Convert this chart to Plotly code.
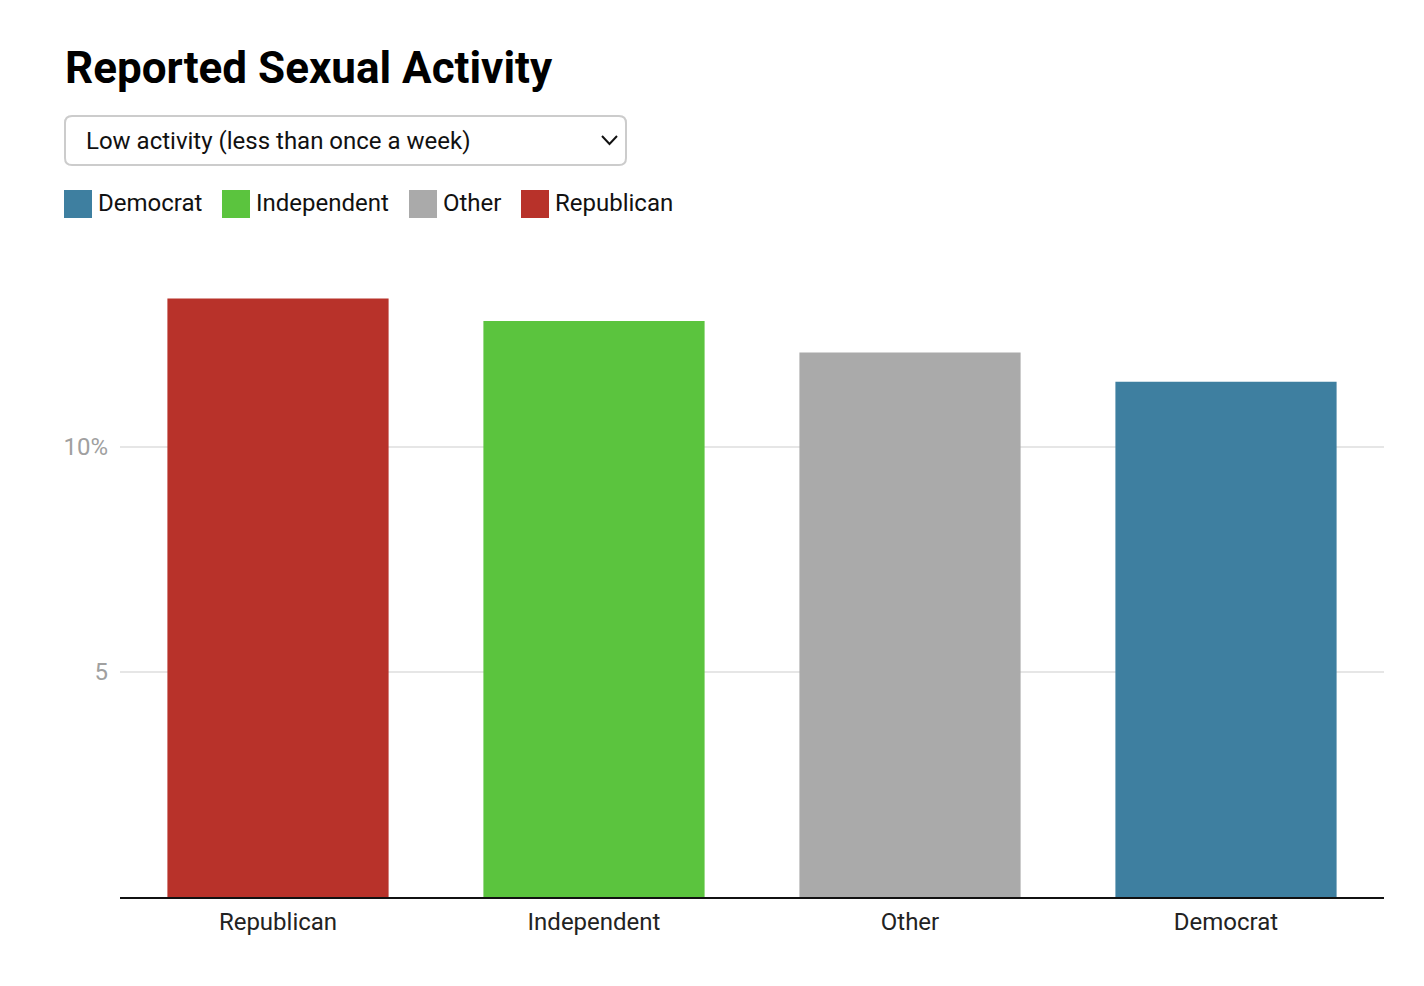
import plotly.graph_objects as go

categories = ["Republican", "Independent", "Other", "Democrat"]
values = [13.3, 12.8, 12.1, 11.45]
colors = ["#b8322a", "#5bc43e", "#aaaaaa", "#3e7fa0"]
legend_names = ["Democrat", "Independent", "Other", "Republican"]
legend_colors = ["#3e7fa0", "#5bc43e", "#aaaaaa", "#b8322a"]
tick_vals = [5, 10]
tick_text = ["5", "10%"]
title_text = "Reported Sexual Activity"
dropdown_text = "Low activity (less than once a week)"

W, H = 1424, 986
L, R, T, B = 120, 40, 250, 89
PW, PH = W - L - R, H - T - B


def px(x):
    return (x - L) / PW


def py(y):
    return (H - B - y) / PH


fig = go.Figure()
fig.add_trace(go.Bar(
    x=categories, y=values, marker=dict(color=colors, line=dict(width=0)),
    showlegend=False, hoverinfo="x+y",
))

shapes = []
annotations = []

# title
annotations.append(dict(
    text="<b>" + title_text + "</b>", xref="paper", yref="paper",
    x=px(63), y=py(68), xanchor="left", yanchor="middle", showarrow=False,
    font=dict(family="Roboto", size=44, color="#000000"),
))

# dropdown box (rounded)
x0, x1, y0, y1, r = px(65), px(626), py(116), py(165), 7
rx, ry = r / PW, r / PH
path = (f"M {x0+rx},{y0} L {x1-rx},{y0} Q {x1},{y0} {x1},{y0-ry} "
        f"L {x1},{y1+ry} Q {x1},{y1} {x1-rx},{y1} L {x0+rx},{y1} "
        f"Q {x0},{y1} {x0},{y1+ry} L {x0},{y0-ry} Q {x0},{y0} {x0+rx},{y0} Z")
shapes.append(dict(type="path", xref="paper", yref="paper", path=path,
                   line=dict(color="#cccccc", width=2), fillcolor="#ffffff", layer="above"))
annotations.append(dict(
    text=dropdown_text, xref="paper", yref="paper",
    x=px(84), y=py(141), xanchor="left", yanchor="middle", showarrow=False,
    font=dict(family="Roboto", size=24, color="#111111"),
))
chev = f"M {px(602)},{py(136)} L {px(609.5)},{py(144)} L {px(617)},{py(136)}"
shapes.append(dict(type="path", xref="paper", yref="paper", path=chev,
                   line=dict(color="#111111", width=2)))

# custom legend
leg_x = [64, 222, 409, 521]
for name, col, lx in zip(legend_names, legend_colors, leg_x):
    shapes.append(dict(type="rect", xref="paper", yref="paper",
                       x0=px(lx), x1=px(lx + 28), y0=py(190), y1=py(218),
                       fillcolor=col, line=dict(width=0)))
    annotations.append(dict(
        text=name, xref="paper", yref="paper",
        x=px(lx + 32), y=py(203), xanchor="left", yanchor="middle", showarrow=False,
        font=dict(family="Roboto", size=24, color="#111111"),
    ))

fig.update_layout(
    width=W, height=H,
    margin=dict(l=L, r=R, t=T, b=B, pad=0),
    paper_bgcolor="#ffffff", plot_bgcolor="#ffffff",
    bargap=0.3,
    shapes=shapes, annotations=annotations,
    font=dict(family="Roboto"),
    xaxis=dict(
        showgrid=False, showline=True, linecolor="#111111", linewidth=2,
        ticks="", ticklabelstandoff=2,
        tickfont=dict(family="Roboto", size=24, color="#222222"),
        fixedrange=True,
    ),
    yaxis=dict(
        range=[0, PH / 45.0], tickvals=tick_vals, ticktext=tick_text,
        showgrid=True, gridcolor="#e6e6e6", gridwidth=1.5,
        zeroline=False, showline=False, ticks="", ticklabelstandoff=11,
        tickfont=dict(family="Roboto", size=24, color="#a0a0a0"),
        fixedrange=True,
    ),
)

fig.write_html("out.html", config={"displayModeBar": False})
